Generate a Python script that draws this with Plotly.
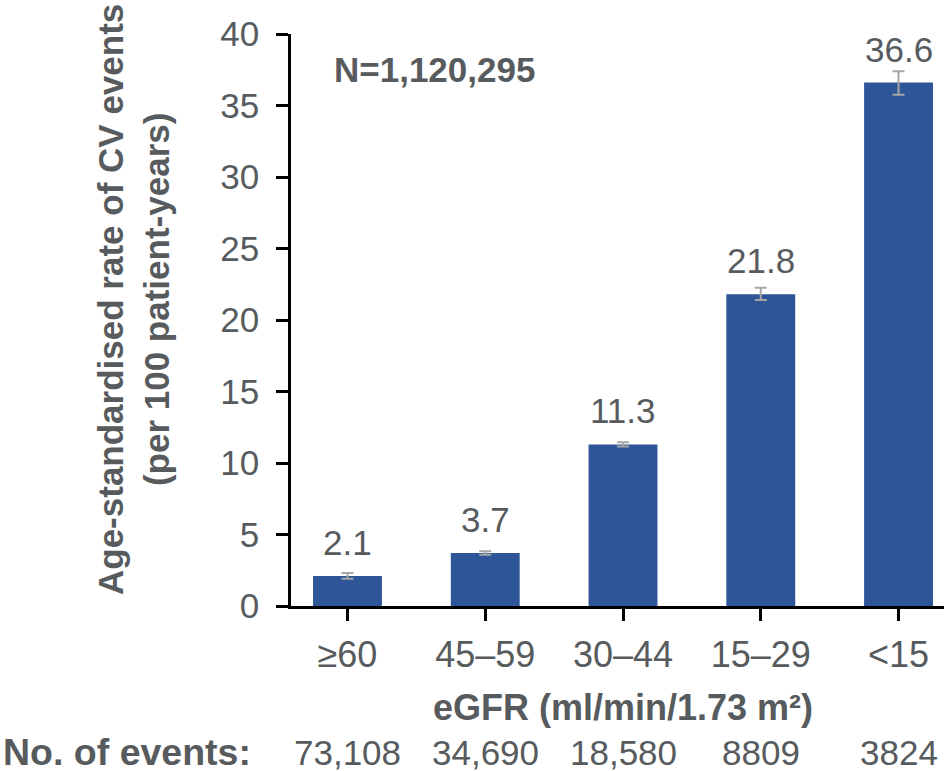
import plotly.graph_objects as go

categories = ["≥60", "45–59", "30–44", "15–29", "<15"]
rates = [2.1, 3.7, 11.3, 21.8, 36.6]
err_plus = [0.2, 0.12, 0.15, 0.45, 0.8]
err_minus = [0.2, 0.12, 0.15, 0.4, 0.85]
events = ["73,108", "34,690", "18,580", "8809", "3824"]
y_ticks = [0, 5, 10, 15, 20, 25, 30, 35, 40]

TXT = "#575b5e"
FONT = "Liberation Sans, Arial, sans-serif"

fig = go.Figure()
fig.add_trace(go.Bar(
    x=list(range(len(categories))), y=rates, width=0.5,
    marker=dict(color="#2e5597", line=dict(width=0)),
    error_y=dict(type="data", array=err_plus, arrayminus=err_minus,
                 color="#a6a6a6", thickness=2, width=6),
    showlegend=False,
))

annotations = []
for i, v in enumerate(rates):
    annotations.append(dict(x=i, y=v, xref="x", yref="y", text=f"{v:.1f}",
                            showarrow=False, yanchor="bottom", yshift=12,
                            font=dict(size=35, color=TXT, family=FONT)))
for i, e in enumerate(events):
    annotations.append(dict(x=i, y=0, xref="x", yref="paper", text=e,
                            showarrow=False, yanchor="middle", yshift=-146,
                            font=dict(size=35, color=TXT, family=FONT)))
annotations.append(dict(x=-291/653, y=0, xref="paper", yref="paper", xanchor="left",
                        text="<b>No. of events:</b>", showarrow=False, yanchor="middle",
                        yshift=-146, xshift=1, font=dict(size=37.5, color=TXT, family=FONT)))
annotations.append(dict(x=0.5, y=0, xref="paper", yref="paper",
                        text="<b>eGFR (ml/min/1.73 m²)</b>", showarrow=False,
                        yanchor="middle", yshift=-101, xshift=5,
                        font=dict(size=36, color=TXT, family=FONT)))
annotations.append(dict(x=0, y=0.5, xref="paper", yref="paper",
                        text="<b>Age-standardised rate of CV events<br>(per 100 patient-years)</b>",
                        showarrow=False, textangle=-90, xanchor="center", yanchor="middle",
                        xshift=-158, yshift=20,
                        font=dict(size=35, color=TXT, family=FONT)))
annotations.append(dict(x=(332 - 291) / 653, y=(606 - 70) / 572, xref="paper", yref="paper",
                        xanchor="left", text="<b>N=1,120,295</b>", showarrow=False,
                        yanchor="middle", font=dict(size=35, color=TXT, family=FONT)))

fig.update_layout(
    width=944, height=771,
    margin=dict(l=291, r=0, t=34, b=165),
    plot_bgcolor="white", paper_bgcolor="white",
    font=dict(family=FONT, color=TXT),
    annotations=annotations,
    xaxis=dict(tickmode="array", tickvals=list(range(len(categories))), ticktext=categories,
               range=[-0.41, 4.33], showline=True, linecolor="black", linewidth=2.5,
               ticks="outside", ticklen=12, tickwidth=2.5, tickcolor="black",
               tickfont=dict(size=36, color=TXT), ticklabelstandoff=3,
               showgrid=False, zeroline=False),
    yaxis=dict(range=[0, 40], tickmode="array", tickvals=y_ticks,
               showline=True, linecolor="black", linewidth=2.5,
               ticks="outside", ticklen=12, tickwidth=2.5, tickcolor="black",
               tickfont=dict(size=35, color=TXT), ticklabelstandoff=10,
               showgrid=False, zeroline=False),
)

fig.write_html("out.html", config={"displayModeBar": False},
               post_script="document.body.style.margin='0';")
